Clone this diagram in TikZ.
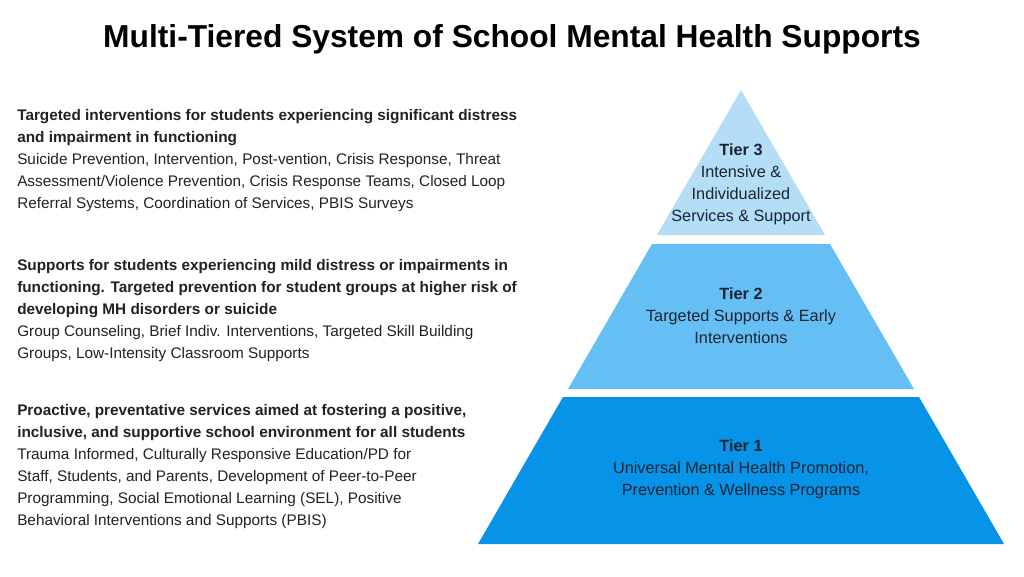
\documentclass[tikz,border=0pt]{standalone}
\usepackage{fontspec}
\setmainfont{Liberation Sans}
\usetikzlibrary{positioning}
\definecolor{tierlight}{HTML}{B3DEF6}
\definecolor{tiermid}{HTML}{66BFF4}
\definecolor{tierdark}{HTML}{0793E8}
\definecolor{tiertext}{HTML}{1B2430}
\definecolor{blurbtext}{HTML}{222222}

\begin{document}
\begin{tikzpicture}[
    x=0.75pt, y=-0.75pt,
    tier/.style={fill=#1, draw=none},
    tierlabel/.style={align=center, anchor=north, inner sep=0pt, text=tiertext,
                      font=\fontsize{12.2}{16.5}\selectfont},
    blurb/.style={align=left, anchor=north west, inner sep=0pt, text=blurbtext,
                  font=\fontsize{11.5}{16.5}\selectfont}
]
\useasboundingbox[fill=white] (0,0) rectangle (1024,576);

\node[anchor=north, inner sep=0pt, font=\fontsize{23.8}{28}\selectfont\bfseries] (title) at (512,24)
    {Multi-Tiered System of School Mental Health Supports};

% pyramid, apex at (741,90)
\fill[tier=tierlight] (741,90)  -- (825,235) -- (657,235) -- cycle;
\fill[tier=tiermid]   (652,244) -- (830,244) -- (914,389) -- (568,389) -- cycle;
\fill[tier=tierdark]  (563,397) -- (919,397) -- (1004,544) -- (478,544) -- cycle;

\node[tierlabel] (tier3) at (741,143)
    {\textbf{Tier 3}\\Intensive \&\\Individualized\\Services \& Support};
\node[tierlabel] (tier2) at (741,287)
    {\textbf{Tier 2}\\Targeted Supports \& Early\\Interventions};
\node[tierlabel] (tier1) at (741,439)
    {\textbf{Tier 1}\\Universal Mental Health Promotion,\\Prevention \& Wellness Programs};

\node[blurb] (blurb3) at (17,109)
    {\textbf{Targeted interventions for students experiencing significant distress}\\
     \textbf{and impairment in functioning}\\
     Suicide Prevention, Intervention, Post-vention, Crisis Response, Threat\\
     Assessment/Violence Prevention, Crisis Response Teams, Closed Loop\\
     Referral Systems, Coordination of Services, PBIS Surveys};
\node[blurb] (blurb2) at (17,259)
    {\textbf{Supports for students experiencing mild distress or impairments in}\\
     \textbf{functioning. Targeted prevention for student groups at higher risk of}\\
     \textbf{developing MH disorders or suicide}\\
     Group Counseling, Brief Indiv. Interventions, Targeted Skill Building\\
     Groups, Low-Intensity Classroom Supports};
\node[blurb] (blurb1) at (17,404)
    {\textbf{Proactive, preventative services aimed at fostering a positive,}\\
     \textbf{inclusive, and supportive school environment for all students}\\
     Trauma Informed, Culturally Responsive Education/PD for\\
     Staff, Students, and Parents, Development of Peer-to-Peer\\
     Programming, Social Emotional Learning (SEL), Positive\\
     Behavioral Interventions and Supports (PBIS)};
\end{tikzpicture}
\end{document}
